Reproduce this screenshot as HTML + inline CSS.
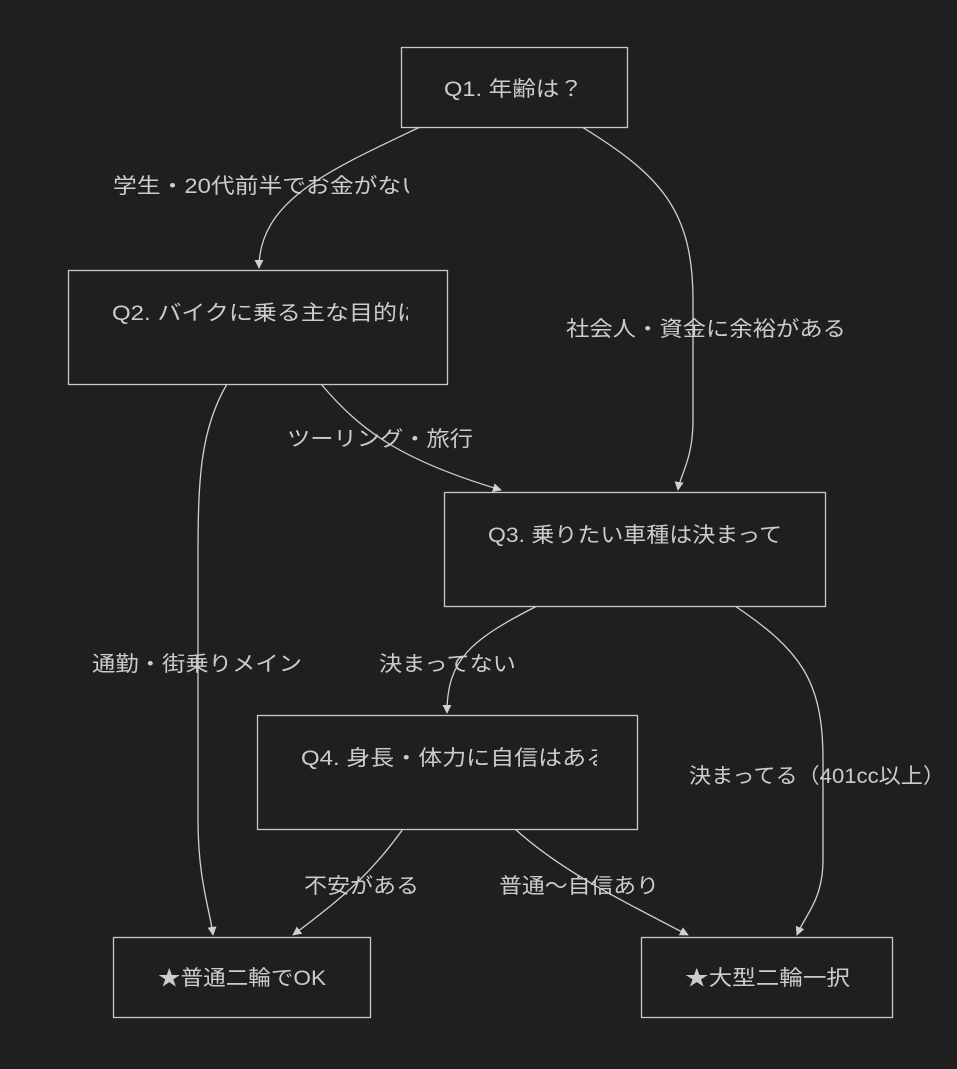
<!DOCTYPE html>
<html><head><meta charset="utf-8"><style>
html,body{margin:0;padding:0;background:#1f1f1f;}
svg{display:block;}
text{font-family:"Liberation Sans","Noto Sans CJK JP",sans-serif;fill:#cccccc;font-size:21px;}
.n{fill:#1f1f1f;stroke:#c8c8c8;stroke-width:1.3;}
.e{fill:none;stroke:#d0d0d0;stroke-width:1.3;}
</style></head><body>
<svg width="957" height="1069" viewBox="0 0 957 1069" xmlns="http://www.w3.org/2000/svg">
<defs>
<marker id="a" viewBox="0 0 10 10" refX="9" refY="5" markerWidth="9" markerHeight="9" orient="auto-start-reverse" markerUnits="userSpaceOnUse"><path d="M0,0L10,5L0,10z" fill="#d0d0d0"/></marker>
<clipPath id="c2"><rect x="68" y="270" width="340" height="114"/></clipPath>
<clipPath id="c3"><rect x="444" y="492" width="338" height="114"/></clipPath>
<clipPath id="c4"><rect x="257" y="715" width="340" height="114"/></clipPath>
<clipPath id="cl1"><rect x="100" y="160" width="309" height="50"/></clipPath>
</defs>
<path class="e" marker-end="url(#a)" d="M420,127 C330,170 259,200 259,268"/>
<path class="e" marker-end="url(#a)" d="M582,127 C660,175 693,210 693,300 L693,420 C693,460 680,475 678,490"/>
<path class="e" marker-end="url(#a)" d="M227,384 C200,430 198,480 198,560 L198,820 C198,880 210,910 213,935"/>
<path class="e" marker-end="url(#a)" d="M321,384 C360,430 400,460 501,490"/>
<path class="e" marker-end="url(#a)" d="M537,606 C470,640 447,660 447,713"/>
<path class="e" marker-end="url(#a)" d="M735,606 C800,650 823,680 823,760 L823,860 C823,900 805,915 797,935"/>
<path class="e" marker-end="url(#a)" d="M403,829 C370,875 340,900 293,935"/>
<path class="e" marker-end="url(#a)" d="M515,829 C560,870 620,900 688,935"/>
<rect class="n" x="401.5" y="47.5" width="226" height="80"/>
<text x="444" y="96" textLength="139" lengthAdjust="spacingAndGlyphs">Q1. 年齢は？</text>
<rect class="n" x="68.5" y="270.5" width="379" height="114"/>
<text x="112" y="320" clip-path="url(#c2)" textLength="333" lengthAdjust="spacingAndGlyphs">Q2. バイクに乗る主な目的は？</text>
<rect class="n" x="444.5" y="492.5" width="381" height="114"/>
<text x="488" y="542" clip-path="url(#c3)" textLength="340" lengthAdjust="spacingAndGlyphs">Q3. 乗りたい車種は決まってる？</text>
<rect class="n" x="257.5" y="715.5" width="380" height="114"/>
<text x="301" y="765" clip-path="url(#c4)" textLength="333" lengthAdjust="spacingAndGlyphs">Q4. 身長・体力に自信はある？</text>
<rect class="n" x="113.5" y="937.5" width="257" height="80"/>
<text x="158" y="985" textLength="168" lengthAdjust="spacingAndGlyphs">★普通二輪でOK</text>
<rect class="n" x="641.5" y="937.5" width="251" height="80"/>
<text x="685" y="985" textLength="165" lengthAdjust="spacingAndGlyphs">★大型二輪一択</text>
<text x="113" y="193" clip-path="url(#cl1)" textLength="312" lengthAdjust="spacingAndGlyphs">学生・20代前半でお金がない</text>
<text x="566" y="336" textLength="280" lengthAdjust="spacingAndGlyphs">社会人・資金に余裕がある</text>
<text x="287" y="446" textLength="186" lengthAdjust="spacingAndGlyphs">ツーリング・旅行</text>
<text x="92" y="671" textLength="210" lengthAdjust="spacingAndGlyphs">通勤・街乗りメイン</text>
<text x="379" y="671" textLength="137" lengthAdjust="spacingAndGlyphs">決まってない</text>
<text x="689" y="783" textLength="256" lengthAdjust="spacingAndGlyphs">決まってる（401cc以上）</text>
<text x="304" y="893" textLength="115" lengthAdjust="spacingAndGlyphs">不安がある</text>
<text x="499" y="893" textLength="160" lengthAdjust="spacingAndGlyphs">普通〜自信あり</text>
</svg>
</body></html>
